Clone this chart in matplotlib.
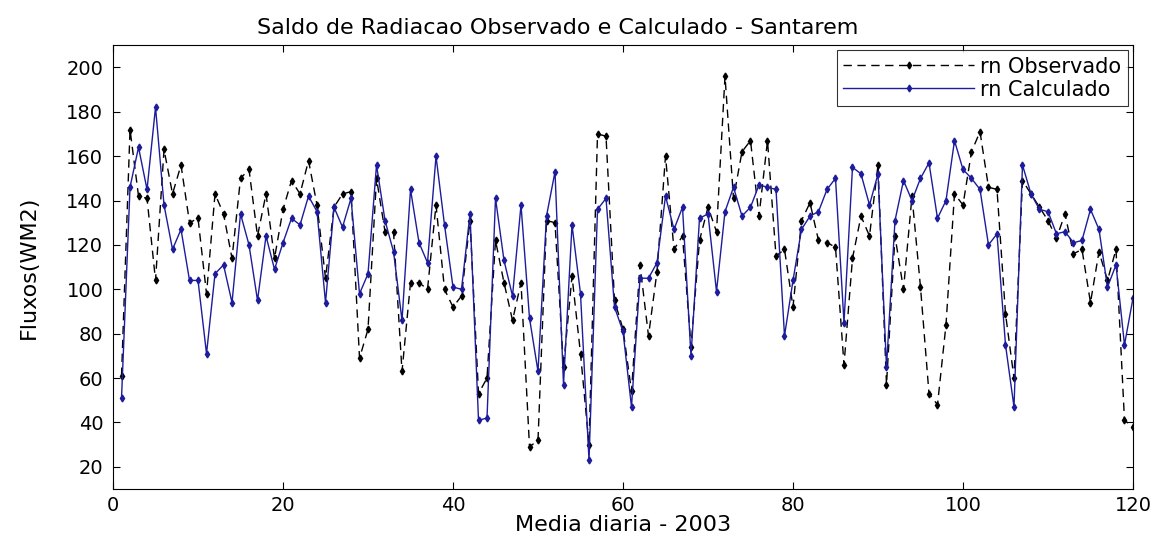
import numpy as np
import matplotlib
matplotlib.use("Agg")
import matplotlib.pyplot as plt

# ---- dados ----
dias = np.arange(1, 121)

rn_obs = [61, 172, 142, 141, 104, 163, 143, 156, 130, 132,
          98, 143, 134, 114, 150, 154, 124, 143, 114, 136,
          149, 143, 158, 138, 105, 137, 143, 144, 69, 82,
          150, 126, 126, 63, 103, 103, 100, 138, 100, 92,
          97, 131, 53, 60, 122, 103, 86, 103, 29, 32,
          131, 130, 65, 106, 71, 30, 170, 169, 95, 82,
          54, 111, 79, 108, 160, 118, 124, 74, 122, 137,
          126, 196, 141, 162, 167, 133, 167, 115, 118, 92,
          131, 139, 122, 121, 119, 66, 114, 133, 124, 156,
          57, 124, 100, 142, 101, 53, 48, 84, 143, 138,
          162, 171, 146, 145, 89, 60, 149, 143, 137, 131,
          123, 134, 116, 118, 94, 117, 104, 118, 41, 38]

rn_calc = [51, 146, 164, 145, 182, 138, 118, 127, 104, 104,
           71, 107, 111, 94, 134, 120, 95, 124, 109, 121,
           132, 129, 142, 135, 94, 137, 128, 141, 98, 107,
           156, 131, 117, 86, 145, 121, 112, 160, 129, 101,
           100, 134, 41, 42, 141, 113, 97, 138, 87, 63,
           133, 153, 57, 129, 98, 23, 136, 141, 92, 81,
           47, 105, 105, 112, 142, 127, 137, 70, 132, 134,
           99, 135, 146, 133, 137, 147, 146, 145, 79, 104,
           127, 133, 135, 145, 150, 85, 155, 152, 138, 152,
           65, 131, 149, 140, 150, 157, 132, 140, 167, 154,
           150, 145, 120, 125, 75, 47, 156, 143, 136, 135,
           125, 126, 121, 122, 136, 127, 101, 111, 75, 96]

xticks = [0, 20, 40, 60, 80, 100, 120]
yticks = [20, 40, 60, 80, 100, 120, 140, 160, 180, 200]

plt.rcParams['font.family'] = ['DejaVu Sans']

fig = plt.figure(figsize=(11.58, 5.38), dpi=100)
ax = fig.add_axes([0.0976, 0.091, 0.8808, 0.825])

ax.plot(dias, rn_obs, color='black', linestyle=(0, (6, 4)), linewidth=1.0,
        marker='d', markersize=3.5, label='rn Observado')
ax.plot(dias, rn_calc, color='#1c1c9c', linestyle='-', linewidth=1.0,
        marker='d', markersize=3.5, label='rn Calculado')

ax.set_xlim(0, 120)
ax.set_ylim(10, 210)
ax.set_xticks(xticks)
ax.set_yticks(yticks)
ax.tick_params(direction='in', top=True, right=True, labelsize=14, length=5)
ax.tick_params(axis='x', pad=5)
ax.tick_params(axis='y', pad=7)
for s in ax.spines.values():
    s.set_linewidth(0.8)

ax.set_title('Saldo de Radiacao Observado e Calculado - Santarem', fontsize=16,
             pad=8, x=0.436)
ax.set_xlabel('Media diaria - 2003', fontsize=16, labelpad=0)
ax.set_ylabel('Fluxos(WM2)', fontsize=16, labelpad=20)

leg = ax.legend(loc='upper right', fontsize=15, fancybox=False, edgecolor='black',
                numpoints=1, handlelength=6.3, handletextpad=0.3,
                borderaxespad=0.25, borderpad=0.3, labelspacing=0.15)
leg.get_frame().set_linewidth(0.8)

fig.savefig('out.png', dpi=100)
